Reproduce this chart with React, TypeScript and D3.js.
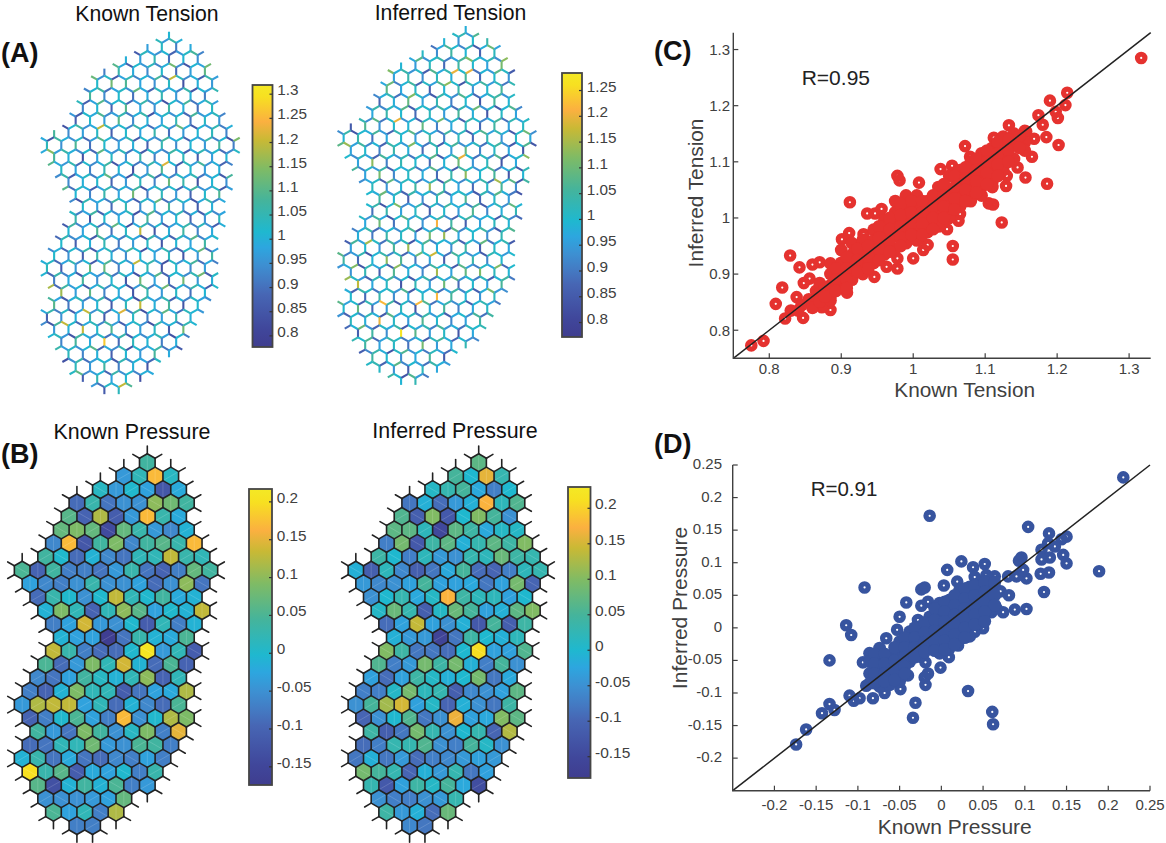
import React from 'react';
import * as d3 from 'd3';

// colour map (position along bar, colour)
const mapStops = [0, 0.07, 0.2, 0.25, 0.315, 0.38, 0.44, 0.56, 0.68, 0.79, 0.86, 0.955, 1];
const mapColors = ['#3f3d8f', '#40479b', '#4766b4', '#4479c2', '#3d90d2', '#2da6df', '#1fb8cf', '#45b49b', '#7fbb65', '#c9b935', '#fbb040', '#f7e021', '#f4e925'];

// lattice: first half-step column of every row of cells
const rowStart = [0, -3, -6, -9, -10, -11, -12, -13, -16, -15, -14, -13, -12, -11, -12, -13, -14, -15, -16, -15, -14, -15, -16, -15, -14, -13, -12, -9];

const knownPressure = [
  [.04],
  [-.04, .02, .17, .01],
  [.01, -.04, 0, -.03, -.12, -.02],
  [-.09, .03, -.08, -.05, -.05, .1, .08, .04],
  [.06, -.1, .12, -.11, -.04, .17, .03, -.02],
  [.07, .09, .07, -.14, .07, .03, -.04, -.06, -.01],
  [-.06, .17, -.12, .04, .09, -.06, .04, .06, .03, .17],
  [.04, 0, -.09, -.01, -.06, -.08, .02, .02, .13, .03, .02],
  [.05, -.1, .04, -.07, -.07, -.08, -.04, .03, -.08, -.1, -.07, .07, .04],
  [-.03, -.06, -.07, -.05, .03, -.05, -.05, -.03, -.09, -.05, .1, -.08],
  [-.09, .03, 0, -.05, 0, .13, .02, 0, .04, -.02, -.01],
  [-.01, .09, .02, -.1, .02, .1, .06, -.03, 0, -.01, .13],
  [-.07, -.03, .14, -.04, -.05, 0, -.11, .02, -.07, -.01],
  [-.01, -.03, -.03, -.17, -.08, .03, -.01, -.02, .05],
  [.13, .03, -.07, -.09, -.09, 0, .21, -.04, .02, -.11],
  [.05, -.09, -.04, .09, .02, .14, -.01, -.09, .05, -.1],
  [-.06, -.08, -.03, .04, .01, -.01, .02, .1, -.1, .02],
  [-.07, -.1, -.01, .09, .02, .02, -.11, -.08, -.03, -.02, .12],
  [-.04, .12, .13, .13, -.03, .02, -.09, -.01, -.06, -.09, .05],
  [-.1, -.07, 0, .05, -.03, -.07, .17, -.05, 0, .12, .09],
  [.04, -.04, -.08, .09, .04, -.05, .01, .09, -.07, .15],
  [-.09, -.08, .02, .02, .08, -.04, -.05, .05, .04, -.07],
  [-.01, .03, -.08, -.02, -.08, -.09, -.06, -.07, -.03, -.07],
  [.2, .03, .06, -.11, -.02, -.03, 0, -.07, .03],
  [.06, -.13, -.01, .04, -.01, .05, -.07, -.04],
  [-.05, -.05, -.05, -.04, -.03, .07],
  [.05, -.03, .02, -.07, .12],
  [-.07, -.07],
];

const inferredPressure = [
  [.07],
  [.05, 0, .16, .03],
  [.01, .03, .05, -.02, -.07, 0],
  [-.08, -.01, -.09, -.04, -.01, .175, .02, .06],
  [.06, -.11, .1, -.12, 0, .1, .05, -.05],
  [.07, .07, .02, -.15, .07, .04, -.02, .01, .01],
  [-.07, .09, -.12, .04, .07, -.01, .03, .07, .04, .1],
  [.04, 0, -.07, .02, -.04, -.05, .03, .02, .08, .04, .03],
  [-.01, -.11, .02, -.06, -.11, -.08, -.02, .05, -.09, -.1, -.07, .02, .03],
  [-.04, -.06, -.05, -.03, .05, -.03, -.03, -.02, -.08, -.03, .09, -.1],
  [-.05, 0, .03, -.02, .01, .175, .04, .02, .02, -.03, 0],
  [.01, .08, .03, -.11, .01, .08, .05, -.03, -.01, .07, .1],
  [-.09, -.03, .14, -.03, -.05, -.01, -.12, .05, -.11, .04],
  [-.01, -.04, -.04, -.16, -.08, .04, 0, -.01, .02],
  [.1, .04, -.08, -.08, -.09, 0, .21, -.03, -.03, .06],
  [.06, -.07, -.04, .09, .04, .09, -.01, -.07, .05, -.05],
  [-.03, -.09, -.03, .04, .01, -.01, 0, .09, -.08, -.02],
  [-.07, -.07, .01, .09, .02, .03, -.11, -.06, -.05, -.03, .07],
  [-.05, .05, .12, .15, -.03, .01, -.1, -.01, -.05, -.08, .04],
  [-.1, -.05, 0, .06, -.08, -.05, .165, -.03, -.02, .1, .07],
  [.04, -.11, -.08, .09, .03, -.05, 0, .03, -.1, .13],
  [-.09, -.07, .03, .03, .06, -.05, -.07, .05, .01, -.05],
  [-.08, -.01, -.08, -.04, -.09, -.07, -.06, -.04, -.03, -.04],
  [.09, .05, .03, -.1, -.01, -.04, .03, -.08, -.03],
  [.03, -.12, -.03, .04, .01, .05, -.02, -.14],
  [-.05, -.07, -.07, -.05, -.04, .03],
  [.04, -.04, -.01, -.09, .08],
  [-.06, -.08],
];

// tension of each edge in percent, top to bottom, left to right
const knownTension = [
  101, 104, 96, 106, 100, 97, 103, 92, 99, 86, 104, 98, 95, 101, 88, 96, 103, 108, 93, 100,
  97, 105, 90, 101, 95, 110, 99, 87, 102, 96, 104, 93, 100, 107, 95, 85, 101, 98, 104, 92,
  106, 99, 94, 102, 89, 97, 111, 100, 95, 103, 86, 98, 105, 93, 101, 96, 108, 90, 99, 104,
  94, 100, 87, 106, 97, 102, 92, 109, 98, 95, 103, 84, 100, 96, 105, 93, 101, 107, 90, 98,
  103, 95, 111, 99, 88, 104, 96, 100, 93, 106, 85, 101, 97, 108, 94, 102, 90, 99, 105, 96,
  100, 92, 104, 87, 98, 110, 95, 101, 103, 89, 97, 106, 94, 100, 84, 102, 96, 108, 91, 99,
  105, 97, 93, 101, 88, 104, 98, 95, 107, 100, 90, 103, 96, 86, 102, 99, 109, 94, 97, 105,
  92, 100, 106, 85, 98, 103, 95, 101, 89, 108, 96, 99, 104, 93, 87, 102, 97, 110, 94, 100,
  98, 105, 91, 103, 96, 84, 101, 107, 95, 99, 88, 104, 97, 102, 93, 106, 100, 90, 98, 103,
  95, 112, 99, 86, 101, 96, 105, 92, 100, 108, 94, 97, 103, 87, 102, 98, 106, 90, 96, 101,
  104, 93, 99, 85, 107, 100, 95, 103, 89, 97, 110, 101, 92, 98, 105, 86, 102, 96, 94, 108,
  99, 103, 88, 100, 96, 106, 93, 101, 84, 98, 104, 95, 109, 90, 102, 97, 100, 87, 105, 94,
  101, 96, 108, 92, 99, 103, 85, 97, 106, 100, 94, 102, 89, 111, 98, 95, 104, 91, 100, 86,
  103, 97, 93, 107, 101, 88, 99, 105, 96, 102, 90, 94, 108, 100, 84, 98, 103, 95, 106, 92,
  100, 104, 87, 97, 101, 110, 93, 99, 96, 105, 89, 102, 94, 100, 107, 85, 98, 103, 91, 96,
  106, 99, 92, 101, 86, 104, 97, 108, 95, 100, 88, 103, 98, 93, 105, 101, 84, 96, 109, 90,
  102, 97, 100, 94, 106, 87, 99, 103, 92, 101, 111, 95, 98, 85, 104, 96, 107, 89, 100, 93,
  103, 98, 105, 91, 97, 101, 86, 108, 94, 100, 102, 88, 96, 104, 93, 99, 106, 84, 101, 95,
  110, 97, 90, 103, 100, 87, 98, 105, 92, 101, 96, 107, 85, 99, 104, 94, 102, 89, 100, 108,
  95, 97, 103, 86, 101, 93, 106, 98, 100, 91, 104, 96, 88, 102, 109, 94, 99, 84, 105, 97,
  100, 92, 107, 101, 96, 87, 103, 98, 112, 90, 95, 104, 100, 85, 99, 106, 93, 102, 97, 89,
  105, 94, 101, 108, 96, 86, 100, 103, 92, 98, 107, 88, 102, 95, 99, 104, 84, 97, 110, 93,
  101, 96, 105, 90, 100, 87, 103, 94, 98, 106, 85, 102, 99, 92, 108, 97, 101, 89, 95, 104,
  100, 86, 107, 93, 98, 103, 91, 96, 111, 101, 84, 99, 105, 94, 102, 88, 97, 100, 106, 92,
  104, 95, 87, 101, 98, 109, 90, 103, 96, 85, 100, 107, 93, 99, 102, 89, 105, 94, 97, 101,
  86, 108, 96, 100, 92, 103, 98, 84, 106, 95, 101, 88, 104, 97, 110, 93, 99, 102, 87, 100,
  105, 91, 96, 103, 85, 101, 98, 107, 94, 100, 89, 102, 95, 106, 86, 99, 104, 92, 97, 108,
  101, 84, 100, 96, 105, 93, 88, 103, 99, 111, 90, 97, 102, 95, 87, 106, 100, 94, 101, 98,
  104, 85, 96, 107, 92, 100, 103, 89, 98, 105, 94, 101, 86, 99, 109, 93, 102, 96, 88, 100,
  106, 97, 84, 103, 95, 101, 108, 90, 99, 104, 87, 96, 100, 112, 92, 98, 105, 85, 102, 94,
  97, 101, 89, 106, 93, 100, 86, 103, 98, 95, 107, 91, 104, 99, 84, 101, 96, 110, 88, 102,
  100, 94, 105, 97, 87, 103, 92, 99, 108, 95, 101, 85, 106, 98, 90, 104, 96, 100, 93, 102,
  89, 107, 97, 101, 86, 99, 105, 94, 103, 100, 84, 96, 109, 92, 98, 104, 88, 101, 95, 106,
  100, 87, 102, 97, 111, 93, 99, 85, 105, 96, 103, 90, 101, 94, 108, 98, 86, 100, 104, 92,
  97, 106, 89, 101, 95, 102, 84, 107, 99, 96, 105, 88, 100, 93, 103, 98, 110, 91, 97, 101,
  86, 104, 94, 100, 108, 85, 102, 96, 99, 106, 92, 103, 87, 98, 101, 95, 105, 89, 100, 97,
  93, 107, 84, 102, 96, 111, 99, 90, 104, 101, 88, 95, 100, 106, 86, 98, 103, 92, 97, 105,
  100, 94, 101, 85, 108, 96, 102, 89, 99, 104, 93, 107, 97, 87, 100, 103, 95, 84, 106, 98,
  101, 91, 105, 96, 100, 88, 102, 109, 94, 97, 103, 86, 99, 101, 92, 104, 96, 85, 107, 100,
  95, 103, 90, 98, 106, 87, 101, 94, 100, 105, 97, 84, 102, 93, 108, 99, 96, 89, 104, 101,
  92, 100, 106, 86, 97, 103, 95, 101, 110, 88, 99, 94, 105, 85, 102, 96, 100, 107, 91, 98,
  104, 93, 100, 87, 101, 96, 108, 99, 84, 103, 95, 106, 90, 97, 102, 100, 86, 105, 94, 101,
  98, 89, 104, 96, 107, 92, 100, 85, 103, 99, 111, 94, 97, 101, 88, 106, 95, 102, 93, 100,
  87, 105, 98, 101, 84, 96, 109, 90, 103, 100, 97, 86, 104, 92, 99, 107, 95, 101, 89, 102,
  100, 96, 106, 85, 98, 103, 94, 100, 88, 105, 97, 101, 92, 108, 84, 99, 102, 95, 104, 90,
];

const inferredTension = [
  98, 101, 103, 95, 107, 99, 94, 100, 104, 89, 97, 106, 100, 92, 103, 85, 98, 110, 96, 101,
  93, 105, 99, 87, 102, 97, 108, 94, 100, 104, 91, 96, 106, 84, 101, 98, 103, 93, 109, 99,
  95, 102, 88, 105, 100, 96, 111, 90, 98, 104, 94, 101, 86, 107, 97, 103, 92, 100, 105, 89,
  99, 95, 108, 101, 85, 96, 104, 93, 102, 98, 106, 88, 100, 94, 103, 97, 110, 91, 99, 105,
  87, 101, 96, 107, 93, 100, 84, 103, 98, 105, 95, 102, 90, 108, 97, 101, 86, 99, 104, 94,
  100, 106, 92, 98, 103, 89, 96, 112, 101, 95, 85, 104, 99, 93, 107, 100, 88, 97, 102, 105,
  94, 101, 87, 98, 109, 96, 103, 91, 100, 84, 106, 99, 95, 104, 92, 102, 97, 108, 86, 101,
  100, 93, 105, 98, 89, 103, 96, 110, 94, 101, 85, 99, 107, 92, 97, 104, 100, 88, 102, 95,
  106, 98, 84, 101, 96, 103, 93, 108, 90, 100, 105, 94, 99, 87, 102, 97, 111, 95, 101, 86,
  104, 100, 92, 98, 106, 89, 103, 96, 101, 85, 107, 94, 100, 99, 109, 91, 97, 102, 88, 105,
  96, 101, 93, 104, 84, 100, 98, 106, 95, 87, 103, 99, 108, 92, 101, 97, 90, 105, 94, 102,
  86, 100, 107, 96, 103, 98, 85, 101, 110, 93, 99, 104, 89, 97, 100, 95, 106, 91, 102, 88,
  103, 94, 101, 97, 108, 84, 100, 96, 105, 92, 99, 87, 104, 101, 95, 112, 98, 90, 103, 86,
  100, 106, 93, 97, 102, 89, 101, 105, 94, 85, 99, 107, 96, 100, 91, 104, 98, 88, 103, 95,
  109, 92, 101, 97, 84, 100, 105, 93, 102, 96, 87, 106, 99, 94, 103, 90, 101, 98, 108, 86,
  97, 104, 95, 100, 89, 102, 93, 107, 85, 98, 101, 96, 105, 91, 103, 100, 88, 99, 110, 94,
  102, 84, 97, 106, 92, 101, 95, 104, 87, 100, 98, 103, 90, 96, 108, 93, 99, 86, 105, 101,
  94, 100, 107, 89, 97, 102, 85, 103, 96, 111, 92, 101, 98, 88, 104, 95, 100, 106, 84, 99,
  93, 105, 97, 101, 87, 109, 94, 102, 100, 90, 96, 103, 86, 107, 98, 92, 101, 95, 104, 89,
  100, 97, 108, 85, 102, 94, 99, 105, 91, 103, 96, 88, 101, 106, 93, 100, 84, 98, 110, 95,
  102, 87, 104, 97, 100, 92, 106, 89, 99, 101, 96, 85, 103, 94, 108, 98, 90, 105, 100, 86,
  93, 102, 97, 107, 88, 101, 95, 100, 104, 84, 99, 112, 92, 96, 103, 87, 101, 94, 105, 98,
  100, 91, 106, 85, 97, 102, 93, 109, 99, 89, 104, 96, 101, 86, 100, 95, 107, 92, 98, 103,
  88, 101, 94, 105, 97, 84, 100, 108, 96, 102, 90, 99, 104, 93, 87, 101, 106, 95, 98, 100,
  85, 103, 92, 97, 110, 89, 101, 94, 100, 105, 86, 96, 102, 99, 107, 91, 98, 104, 88, 95,
  100, 93, 101, 106, 84, 97, 103, 96, 87, 108, 92, 100, 99, 105, 94, 85, 102, 98, 90, 104,
  101, 95, 111, 88, 97, 100, 93, 103, 86, 106, 96, 99, 101, 89, 105, 94, 102, 84, 98, 107,
  92, 100, 97, 104, 87, 101, 95, 109, 90, 99, 103, 85, 96, 100, 94, 106, 88, 102, 98, 93,
  105, 86, 101, 97, 100, 108, 91, 95, 103, 84, 99, 104, 92, 102, 87, 96, 110, 100, 94, 98,
  89, 106, 101, 93, 97, 85, 103, 100, 95, 105, 88, 99, 102, 107, 90, 96, 86, 101, 104, 92,
  100, 94, 98, 112, 84, 103, 97, 101, 87, 106, 93, 100, 96, 89, 105, 99, 102, 85, 108, 95,
  91, 101, 97, 104, 88, 100, 94, 103, 86, 107, 98, 92, 100, 96, 109, 84, 102, 99, 105, 90,
  101, 95, 87, 103, 97, 106, 93, 100, 85, 98, 104, 89, 101, 96, 108, 94, 100, 91, 102, 86,
  99, 105, 92, 97, 101, 84, 103, 95, 110, 88, 100, 96, 106, 93, 98, 87, 104, 101, 90, 99,
  102, 94, 107, 85, 100, 97, 103, 89, 96, 105, 92, 101, 86, 98, 111, 95, 100, 88, 104, 93,
  97, 101, 84, 106, 99, 94, 102, 90, 108, 96, 100, 87, 103, 95, 98, 105, 85, 101, 92, 100,
  107, 89, 97, 104, 93, 101, 86, 99, 103, 96, 100, 109, 88, 95, 102, 84, 98, 106, 91, 97,
  101, 94, 105, 87, 100, 92, 103, 98, 85, 108, 96, 99, 102, 90, 104, 95, 101, 86, 97, 100,
  93, 106, 89, 102, 98, 84, 101, 95, 107, 100, 92, 96, 105, 88, 103, 99, 110, 94, 87, 101,
  97, 104, 85, 100, 96, 103, 91, 106, 94, 98, 89, 102, 100, 86, 105, 93, 99, 108, 95, 101,
  84, 97, 103, 92, 100, 107, 88, 96, 104, 101, 90, 94, 99, 85, 102, 106, 98, 87, 100, 93,
  105, 96, 101, 89, 111, 95, 97, 103, 86, 100, 92, 104, 98, 84, 101, 107, 94, 99, 90, 102,
  96, 88, 105, 100, 93, 97, 106, 85, 101, 95, 103, 87, 99, 108, 92, 100, 96, 89, 104, 98,
  101, 94, 86, 102, 97, 105, 90, 100, 84, 107, 95, 99, 103, 93, 88, 101, 96, 109, 92, 100,
  85, 104, 98, 97, 106, 89, 101, 94, 100, 87, 103, 96, 105, 91, 99, 102, 86, 108, 95, 97,
];

// bright segments: row, column (half steps), value
const knownHot = [
  [8.53, -16.1, 1.15], [6.6, -9.5, 1.2], [3.14, -7.9, 1.13], [2.5, -10.4, 1.12], [2.6, .6, 1.2], [1.37, .4, 1.13],
  [1.5, 5.5, 1.13], [7.5, 9.4, 1.14], [12, -4.8, 1.13], [9.6, -.2, 1.22], [11.1, 0, 1.12], [15.2, -3.9, 1.2],
  [17.6, -4.4, 1.2], [19.2, -3.7, 1.13], [19.7, -.3, 1.13], [19.7, -16.3, 1.18], [20.1, -14.8, 1.17], [21.6, -11.2, 1.2],
  [21.5, -6.6, 1.22], [21, -4, 1.2], [22.7, -14.5, 1.2], [23.1, -11.9, 1.2], [24.1, -8.8, 1.27], [27.7, -6.5, 1.2],
  [23.2, 2, 1.13], [16.7, 4.3, 1.12], [18.7, 4.6, 1.13], [19.2, 2.1, 1.13], [18.1, -10.8, 1.12], [4.9, -6, 1.1],
];
const inferredHot = [
  [6.5, -9.3, 1.2], [2.45, -1.35, 1.2], [2.5, .55, 1.2], [3.5, -2.2, 1.13], [1.43, 5.5, 1.13], [1.43, .6, 1.12],
  [2.4, -10.3, 1.12], [8.4, -16, 1.14], [9.5, 0, 1.2], [11, .1, 1.13], [9.5, 8.5, 1.13], [10, -12.5, 1.13],
  [11.4, 4.6, 1.15], [12.1, -4.7, 1.14], [15.1, -3.8, 1.21], [16.1, -2.7, 1.14], [16.5, -13.3, 1.15], [17, -7.8, 1.14],
  [17.5, -4.4, 1.18], [18, -10.7, 1.13], [18.4, -9.2, 1.13], [19.1, -3.6, 1.15], [19.1, 2.2, 1.12], [19.5, -16.1, 1.14],
  [20.1, -14.7, 1.17], [21.5, -11.1, 1.22], [21.5, -6.5, 1.22], [20.9, -3.8, 1.22], [23, -11.8, 1.2], [24, -8.7, 1.27],
  [18.6, 4.8, 1.12],
];

// scatter C: known, inferred
const tensionSingles = [
  [1.3168, 1.285], [1.214, 1.223], [1.19, 1.209], [1.2115, 1.201], [1.174, 1.183], [1.198, 1.189], [1.201, 1.178], [1.18, 1.166],
  [1.133, 1.165], [1.185, 1.144], [1.202, 1.13], [1.112, 1.143], [1.168, 1.141], [1.157, 1.154], [1.072, 1.128], [1.165, 1.109],
  [1.079, 1.109], [1.156, 1.072], [1.186, 1.061], [1.129, 1.057], [1.038, 1.087], [1.054, 1.093], [.978, 1.075], [.981, 1.067],
  [1.008, 1.063], [.912, 1.028], [.936, 1.008], [.947, 1.008], [.956, 1.016], [1.105, 1.026], [1.111, 1.024], [1.123, .992],
  [1.065, 1.007], [1.063, .995], [1.047, .98], [1.055, .95], [1.055, .926], [1, .928], [1.014, .943], [1.02, .952],
  [.978, .91], [.978, .928], [.946, .895], [.963, .913], [.908, .867], [.901, .962], [.911, .973], [.931, .971],
  [.829, .933], [.842, .912], [.86, .917], [.87, .921], [.856, .892], [.848, .884], [.818, .876], [.809, .847],
  [.838, .859], [.847, .822], [.822, .821], [.885, .836], [.873, .841], [.792, .781], [.775, .773], [1.13, 1.075], [1.145, 1.09],
];
const tensionCore = [
  [.83, .835], [.845, .845], [.855, .855], [.86, .84], [.865, .87], [.84, .835], [.875, .845],
  [.87, .884], [.87, .866], [.87, .851], [.885, .919], [.885, .9], [.885, .88], [.885, .86], [.885, .853],
  [.9, .943], [.9, .92], [.9, .9], [.9, .88], [.915, .955], [.915, .935], [.915, .915], [.915, .895], [.915, .89],
  [.93, .961], [.93, .94], [.93, .92], [.93, .9], [.945, .979], [.945, .96], [.945, .94], [.945, .92],
  [.96, .996], [.96, .975], [.96, .955], [.96, .935], [.975, 1.03], [.975, 1.01], [.975, .99], [.975, .97], [.975, .945],
  [.99, 1.04], [.99, 1.02], [.99, 1], [.99, .98], [.99, .955], [1.005, 1.04], [1.005, 1.02], [1.005, 1], [1.005, .98], [1.005, .96],
  [1.02, 1.03], [1.02, 1.01], [1.02, .99], [1.02, .975], [1.035, 1.055], [1.035, 1.035], [1.035, 1.015], [1.035, .995], [1.035, .985],
  [1.05, 1.075], [1.05, 1.05], [1.05, 1.03], [1.05, 1.01], [1.05, 1], [1.065, 1.085], [1.065, 1.065], [1.065, 1.045], [1.065, 1.025], [1.065, 1.02],
  [1.08, 1.1], [1.08, 1.08], [1.08, 1.06], [1.08, 1.04], [1.08, 1.03], [1.095, 1.115], [1.095, 1.095], [1.095, 1.075], [1.095, 1.055], [1.095, 1.04],
  [1.11, 1.125], [1.11, 1.105], [1.11, 1.085], [1.11, 1.065], [1.11, 1.055], [1.125, 1.145], [1.125, 1.125], [1.125, 1.105], [1.125, 1.085],
  [1.14, 1.15], [1.14, 1.13], [1.14, 1.105], [1.155, 1.155], [1.155, 1.135], [1.155, 1.12],
  [.8775, .875], [.8775, .86], [.8925, .91], [.8925, .89], [.8925, .87], [.9075, .93], [.9075, .91], [.9075, .89], [.9075, .875],
  [.9225, .945], [.9225, .925], [.9225, .905], [.9375, .95], [.9375, .93], [.9375, .91], [.9525, .985], [.9525, .965], [.9525, .945], [.9525, .925],
  [.9675, 1], [.9675, .98], [.9675, .96], [.9675, .94], [.9825, 1.025], [.9825, 1.005], [.9825, .985], [.9825, .965], [.9825, .95],
  [.9975, 1.03], [.9975, 1.01], [.9975, .99], [.9975, .97], [1.0125, 1.03], [1.0125, 1.01], [1.0125, .99], [1.0125, .97],
  [1.0275, 1.04], [1.0275, 1.02], [1.0275, 1], [1.0275, .98], [1.0425, 1.06], [1.0425, 1.04], [1.0425, 1.02], [1.0425, 1],
  [1.0575, 1.075], [1.0575, 1.055], [1.0575, 1.035], [1.0575, 1.015], [1.0725, 1.09], [1.0725, 1.07], [1.0725, 1.05], [1.0725, 1.03],
  [1.0875, 1.105], [1.0875, 1.085], [1.0875, 1.065], [1.0875, 1.045], [1.1025, 1.12], [1.1025, 1.1], [1.1025, 1.08], [1.1025, 1.06],
  [1.1175, 1.135], [1.1175, 1.115], [1.1175, 1.095], [1.1175, 1.075], [1.1325, 1.14], [1.1325, 1.12], [1.1325, 1.1], [1.1475, 1.145], [1.1475, 1.125],
];

// scatter D: known, inferred
const pressureSingles = [
  [.218, .231], [-.014, .172], [.104, .155], [.129, .145], [.15, .14], [.144, .136], [.128, .13], [.12, .12], [.136, .125], [.146, .112],
  [.13, .108], [.12, .105], [.15, .099], [.189, .087], [.096, .108], [.093, .103], [.119, .083], [.129, .085], [.123, .055], [.102, .076],
  [.09, .079], [.098, .089], [.08, .079], [.024, .102], [.007, .089], [.038, .093], [.052, .098], [.04, .078], [.054, .081], [.064, .079],
  [.003, .065], [.019, .071], [-.02, .062], [-.024, .059], [-.092, .062], [-.042, .039], [-.016, .04], [-.024, .034], [-.05, .017], [-.028, .012],
  [-.114, .004], [-.108, -.011], [-.053, -.003], [-.066, -.016], [-.134, -.05], [-.094, -.053], [.071, .056], [.081, .05], [.102, .029], [.088, .028],
  [.074, .024], [.06, .024], [.066, .03], [.05, -.0005], [.04, -.006], [-.001, -.061], [.009, -.045], [.02, -.027], [-.019, -.053], [-.016, -.07],
  [-.02, -.076], [-.019, -.0875], [-.04, -.073], [-.049, -.094], [-.068, -.1], [-.082, -.108], [-.031, -.115], [-.034, -.138], [.032, -.097], [.061, -.129],
  [.062, -.148], [-.098, -.108], [-.105, -.112], [-.11, -.104], [-.09, -.089], [-.128, -.126], [-.134, -.117], [-.143, -.131], [-.162, -.156], [-.174, -.179],
];
const pressureCore = [
  [-.086, -.039], [-.086, -.052], [-.086, -.07], [-.086, -.085], [-.074, -.031], [-.074, -.047], [-.074, -.062], [-.074, -.077], [-.074, -.09],
  [-.062, -.044], [-.062, -.059], [-.062, -.075], [-.062, -.0875], [-.05, -.021], [-.05, -.036], [-.05, -.052], [-.05, -.067], [-.05, -.082],
  [-.038, -.006], [-.038, -.021], [-.038, -.036], [-.038, -.052], [-.026, .002], [-.026, -.013], [-.026, -.029], [-.026, -.044],
  [-.014, .017], [-.014, .002], [-.014, -.013], [-.014, -.029], [-.002, .038], [-.002, .023], [-.002, .007], [-.002, -.008], [-.002, -.024], [-.002, -.039],
  [.01, .043], [.01, .028], [.01, .012], [.01, -.003], [.01, -.018], [.01, -.031], [.022, .058], [.022, .043], [.022, .028], [.022, .012], [.022, -.003], [.022, -.018],
  [.034, .063], [.034, .048], [.034, .033], [.034, .017], [.034, .002], [.034, -.013], [.046, .069], [.046, .053], [.046, .038], [.046, .023], [.046, .007],
  [.058, .074], [.058, .058], [.058, .043], [.058, .028],
  [-.08, -.04], [-.08, -.055], [-.08, -.07], [-.08, -.085], [-.068, -.04], [-.068, -.055], [-.068, -.07], [-.068, -.082],
  [-.056, -.03], [-.056, -.05], [-.056, -.065], [-.056, -.08], [-.044, -.015], [-.044, -.03], [-.044, -.045], [-.044, -.06], [-.044, -.07],
  [-.032, 0], [-.032, -.015], [-.032, -.03], [-.032, -.045], [-.02, .008], [-.02, -.007], [-.02, -.022], [-.02, -.037],
  [-.008, .03], [-.008, .012], [-.008, -.005], [-.008, -.02], [-.008, -.035], [.004, .04], [.004, .025], [.004, .01], [.004, -.005], [.004, -.02], [.004, -.033],
  [.016, .05], [.016, .035], [.016, .02], [.016, .005], [.016, -.01], [.016, -.025], [.028, .06], [.028, .045], [.028, .03], [.028, .015], [.028, 0], [.028, -.015],
  [.04, .065], [.04, .05], [.04, .035], [.04, .02], [.04, .005], [.052, .07], [.052, .055], [.052, .04], [.052, .025], [.052, .01], [.064, .07], [.064, .05], [.064, .035],
];

const font = '"Liberation Sans", Arial, sans-serif';
const inkGrey = '#404040';
const cmap = d3.scaleLinear<string>().domain(mapStops).range(mapColors).interpolate(d3.interpolateRgb);

// hex lattice in integer units: x in half steps, y in thirds of a row
const hexCorners = [[0, -2], [1, -1], [1, 1], [0, 2], [-1, 1], [-1, -1]];
const cells = rowStart.flatMap((start, row) =>
  knownPressure[row].map((_, i) => ({ row, i, k: start + i * 2, u: row * 3 })));

function buildEdges() {
  const edgeMap = new Map<string, any>();
  const degree = new Map<string, { x: number; y: number; dirs: number[][] }>();
  const touch = (x: number, y: number, dx: number, dy: number) => {
    const key = x + ',' + y;
    if (!degree.has(key)) degree.set(key, { x, y, dirs: [] });
    degree.get(key)!.dirs.push([dx, dy]);
  };
  cells.forEach(c => {
    hexCorners.forEach((p, j) => {
      const q = hexCorners[(j + 1) % 6];
      const a = [c.k + p[0], c.u + p[1]], b = [c.k + q[0], c.u + q[1]];
      const key = [a.join(','), b.join(',')].sort().join('|');
      if (!edgeMap.has(key)) {
        edgeMap.set(key, { x1: a[0], y1: a[1], x2: b[0], y2: b[1] });
        touch(a[0], a[1], b[0] - a[0], b[1] - a[1]);
        touch(b[0], b[1], a[0] - b[0], a[1] - b[1]);
      }
    });
  });
  const whiskers: any[] = [];
  degree.forEach(v => {
    if (v.dirs.length === 2) {
      const dx = -(v.dirs[0][0] + v.dirs[1][0]);
      const dy = -(v.dirs[0][1] + v.dirs[1][1]);
      whiskers.push({ x1: v.x, y1: v.y, x2: v.x + dx * 0.85, y2: v.y + dy * 0.85 });
    }
  });
  const edges = [...edgeMap.values()];
  return { edges, whiskers };
}
const { edges: cellEdges, whiskers } = buildEdges();
const allEdges = [...cellEdges, ...whiskers]
  .map(e => ({ ...e, mx: (e.x1 + e.x2) / 2, my: (e.y1 + e.y2) / 2 }))
  .sort((a, b) => d3.ascending(Math.round(a.my), Math.round(b.my)) || d3.ascending(a.mx, b.mx));

function edgeValues(percent: number[], hot: number[][]) {
  const values = allEdges.map((_, i) => percent[i % percent.length] / 100);
  hot.forEach(([r, k, v]) => {
    const nearest = d3.least(allEdges.map((e, i) => ({ i, d: (e.mx - k) ** 2 + (e.my - r * 3) ** 2 })), o => o.d);
    if (nearest) values[nearest.i] = v;
  });
  return values;
}

function latticeScales(cx: number, y0: number, dx: number, dy: number) {
  return {
    x: d3.scaleLinear().domain([0, 1]).range([cx, cx + dx]),
    y: d3.scaleLinear().domain([0, 3]).range([y0, y0 + dy]),
  };
}

function TensionMap({ cx, y0, dx, dy, percent, hot, domain }: any) {
  const { x, y } = latticeScales(cx, y0, dx, dy);
  const values = edgeValues(percent, hot);
  const color = d3.scaleLinear().domain(domain).range([0, 1]);
  return (
    <g strokeWidth={2.1}>
      {allEdges.map((e, i) => (
        <line key={i} x1={x(e.x1)} y1={y(e.y1)} x2={x(e.x2)} y2={y(e.y2)} stroke={cmap(color(values[i]))} />
      ))}
    </g>
  );
}

function PressureMap({ cx, y0, dx, dy, rows, domain }: any) {
  const { x, y } = latticeScales(cx, y0, dx, dy);
  const color = d3.scaleLinear().domain(domain).range([0, 1]);
  const hexPath = d3.line<number[]>().x(d => x(d[0])).y(d => y(d[1])).curve(d3.curveLinearClosed);
  return (
    <g>
      {cells.map((c, i) => {
        const from = (c.row + c.i) % 3;
        const a = hexCorners[from], b = hexCorners[from + 3];
        return (
          <g key={i}>
            <path d={hexPath(hexCorners.map(p => [c.k + p[0], c.u + p[1]])) as string} fill={cmap(color(rows[c.row][c.i]))} />
            <line x1={x(c.k + a[0])} y1={y(c.u + a[1])} x2={x(c.k + b[0])} y2={y(c.u + b[1])} stroke="#fff" strokeOpacity={0.22} strokeWidth={0.7} />
          </g>
        );
      })}
      <g stroke="#222" strokeWidth={1.6} strokeLinecap="round">
        {cellEdges.map((e, i) => <line key={i} x1={x(e.x1)} y1={y(e.y1)} x2={x(e.x2)} y2={y(e.y2)} />)}
        {whiskers.map((e, i) => <line key={i} x1={x(e.x1)} y1={y(e.y1)} x2={x(e.x2)} y2={y(e.y2)} />)}
      </g>
    </g>
  );
}

function ColorBar({ id, x, top, bottom, width, domain, ticks, labelX, size }: any) {
  const y = d3.scaleLinear().domain(domain).range([bottom, top]);
  return (
    <g>
      <defs>
        <linearGradient id={id} x1="0" y1="1" x2="0" y2="0">
          {mapStops.map((s, i) => <stop key={i} offset={s} stopColor={mapColors[i]} />)}
        </linearGradient>
      </defs>
      <rect x={x} y={top} width={width} height={bottom - top} fill={`url(#${id})`} stroke="#454545" strokeWidth={1.8} />
      {ticks.map((t: number) => (
        <g key={t}>
          <line x1={x + width - 3} x2={x + width} y1={y(t)} y2={y(t)} stroke="#333" strokeWidth={1.2} />
          <text x={labelX} y={y(t) + 1} fontSize={size} fill={inkGrey}>{String(t)}</text>
        </g>
      ))}
    </g>
  );
}

function Scatter({ left, right, top, bottom, domain, xTicks, yTicks, singles, core, color, xLabel, yLabel, xLabelPos, yLabelPos, labelSize, yLabelRight, xLabelBase, r }: any) {
  const x = d3.scaleLinear().domain(domain).range([left, right]);
  const y = d3.scaleLinear().domain(domain).range([bottom, top]);
  return (
    <g>
      {singles.map((d: number[], i: number) => (
        <circle key={i} cx={x(d[0])} cy={y(d[1])} r={3.7} fill="none" stroke={color} strokeWidth={5.2} />
      ))}
      {core.map((d: number[], i: number) => (
        <circle key={i} cx={x(d[0])} cy={y(d[1])} r={6.4} fill={color} />
      ))}
      <line x1={x(domain[0])} y1={y(domain[0])} x2={x(domain[1])} y2={y(domain[1])} stroke="#222" strokeWidth={1.5} />
      <path d={`M${left},${top}V${bottom}H${right}`} fill="none" stroke={inkGrey} strokeWidth={1.4} />
      {xTicks.map((t: number) => (
        <g key={t}>
          <line x1={x(t)} x2={x(t)} y1={bottom} y2={bottom - 5} stroke={inkGrey} strokeWidth={1.2} />
          <text x={x(t)} y={xLabelBase} fontSize={15} fill={inkGrey} textAnchor="middle">{String(t)}</text>
        </g>
      ))}
      {yTicks.map((t: number) => (
        <g key={t}>
          <line x1={left} x2={left + 5} y1={y(t)} y2={y(t)} stroke={inkGrey} strokeWidth={1.2} />
          <text x={yLabelRight} y={y(t) + r} fontSize={15} fill={inkGrey} textAnchor="end">{String(t)}</text>
        </g>
      ))}
      <text x={xLabelPos[0]} y={xLabelPos[1]} fontSize={labelSize} fill={inkGrey} textAnchor="middle">{xLabel}</text>
      <text transform={`translate(${yLabelPos[0]},${yLabelPos[1]}) rotate(-90)`} fontSize={labelSize} fill={inkGrey} textAnchor="middle">{yLabel}</text>
    </g>
  );
}

const tensionTicksKnown = [0.8, 0.85, 0.9, 0.95, 1, 1.05, 1.1, 1.15, 1.2, 1.25, 1.3];
const tensionTicksInferred = [0.8, 0.85, 0.9, 0.95, 1, 1.05, 1.1, 1.15, 1.2, 1.25];
const pressureTicks = [-0.15, -0.1, -0.05, 0, 0.05, 0.1, 0.15, 0.2];
const axisTicksC = [0.8, 0.9, 1, 1.1, 1.2, 1.3];
const axisTicksD = [-0.2, -0.15, -0.1, -0.05, 0, 0.05, 0.1, 0.15, 0.2, 0.25];

const knownTensionDomain = [0.777, 1.319];
const inferredTensionDomain = [0.772, 1.284];
const knownPressureDomain = [-0.174, 0.217];
const inferredPressureDomain = [-0.18, 0.23];

export default function App() {
  return (
    <svg width={1166} height={843} style={{ position: 'absolute', left: 0, top: 0 }} fontFamily={font}>
      <rect width={1166} height={843} fill="#fff" />
      <text x={147} y={21} fontSize={21.2} textAnchor="middle" fill="#111">Known Tension</text>
      <text x={450.5} y={20} fontSize={21.2} textAnchor="middle" fill="#111">Inferred Tension</text>
      <text x={132} y={439} fontSize={21.4} textAnchor="middle" fill="#111">Known Pressure</text>
      <text x={455} y={438} fontSize={21.4} textAnchor="middle" fill="#111">Inferred Pressure</text>
      <text x={1} y={62} fontSize={27} fontWeight="bold" fill="#111">(A)</text>
      <text x={1} y={463} fontSize={27} fontWeight="bold" fill="#111">(B)</text>
      <text x={654} y={60} fontSize={27} fontWeight="bold" fill="#111">(C)</text>
      <text x={654} y={453} fontSize={27} fontWeight="bold" fill="#111">(D)</text>

      <TensionMap cx={169} y0={46.9} dx={7.18} dy={12.3} percent={knownTension} hot={knownHot} domain={knownTensionDomain} />
      <TensionMap cx={465.7} y0={41} dx={7.18} dy={12.18} percent={inferredTension} hot={inferredHot} domain={inferredTensionDomain} />
      <PressureMap cx={147.3} y0={462.7} dx={7.82} dy={13.44} rows={knownPressure} domain={knownPressureDomain} />
      <PressureMap cx={478.7} y0={462.7} dx={7.68} dy={13.44} rows={inferredPressure} domain={inferredPressureDomain} />

      <ColorBar id="barA" x={252.5} top={85} bottom={347} width={20} domain={knownTensionDomain} ticks={tensionTicksKnown} labelX={277.3} size={15.3} />
      <ColorBar id="barA2" x={562} top={73} bottom={337} width={20} domain={inferredTensionDomain} ticks={tensionTicksInferred} labelX={586.7} size={15.3} />
      <ColorBar id="barB" x={249} top={489} bottom={785} width={23} domain={knownPressureDomain} ticks={pressureTicks} labelX={276.7} size={15.3} />
      <ColorBar id="barB2" x={568} top={487} bottom={778} width={22.5} domain={inferredPressureDomain} ticks={pressureTicks} labelX={595} size={15.5} />

      <Scatter left={733.3} right={1150.7} top={32.7} bottom={358.3} domain={[0.75, 1.33]} xTicks={axisTicksC} yTicks={axisTicksC}
        singles={tensionSingles} core={tensionCore} color="#e5322f" xLabel="Known Tension" yLabel="Inferred Tension"
        xLabelPos={[964.7, 396.7]} yLabelPos={[702.7, 193]} labelSize={20.8} yLabelRight={730} xLabelBase={374} r={5.4} />
      <text x={801.7} y={85} fontSize={21} fill="#222">R=0.95</text>

      <Scatter left={732.7} right={1150} top={465} bottom={790.7} domain={[-0.25, 0.25]} xTicks={axisTicksD} yTicks={axisTicksD}
        singles={pressureSingles} core={pressureCore} color="#37549f" xLabel="Known Pressure" yLabel="Inferred Pressure"
        xLabelPos={[954.7, 834]} yLabelPos={[686.7, 608]} labelSize={21} yLabelRight={722} xLabelBase={810} r={4} />
      <text x={810.7} y={496} fontSize={20.5} fill="#222">R=0.91</text>
    </svg>
  );
}
